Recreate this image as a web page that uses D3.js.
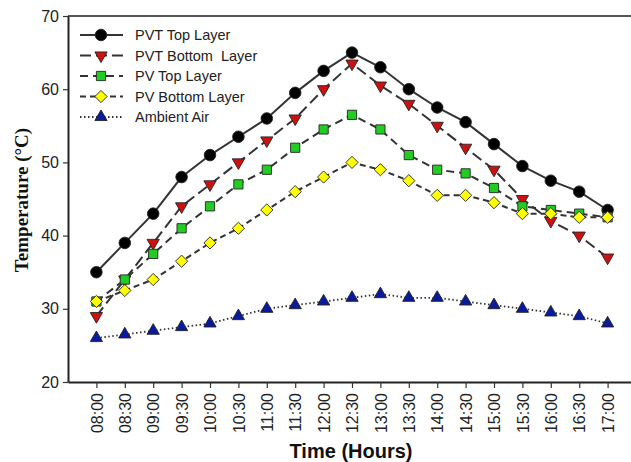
<!DOCTYPE html>
<html>
<head>
<meta charset="utf-8">
<script src="https://cdn.jsdelivr.net/npm/d3@7"></script>
<style>
  body { margin: 0; background: #fff; }
  svg { display: block; }
</style>
</head>
<body>
<div id="chart"></div>
<script>
// data
var times = ["08:00","08:30","09:00","09:30","10:00","10:30","11:00","11:30","12:00","12:30",
             "13:00","13:30","14:00","14:30","15:00","15:30","16:00","16:30","17:00"];
var pvtTop    = [35, 39, 43, 48, 51, 53.5, 56, 59.5, 62.5, 65, 63, 60, 57.5, 55.5, 52.5, 49.5, 47.5, 46, 43.5];
var pvtBottom = [29, 34, 39, 44, 47, 50, 53, 56, 60, 63.5, 60.5, 58, 55, 52, 49, 45, 42, 40, 37];
var pvTop     = [31, 34, 37.5, 41, 44, 47, 49, 52, 54.5, 56.5, 54.5, 51, 49, 48.5, 46.5, 44, 43.5, 43, 42.5];
var pvBottom  = [31, 32.5, 34, 36.5, 39, 41, 43.5, 46, 48, 50, 49, 47.5, 45.5, 45.5, 44.5, 43, 43, 42.5, 42.5];
var ambient   = [26, 26.5, 27, 27.5, 28, 29, 30, 30.5, 31, 31.5, 32, 31.5, 31.5, 31, 30.5, 30, 29.5, 29, 28];
var yTicks = [20, 30, 40, 50, 60, 70];

var series = [
  {name: "PVT Top Layer",      values: pvtTop,    dash: null,    symbol: d3.symbolCircle,   size: 105, fill: "#000000", rot: 0},
  {name: "PVT Bottom  Layer",  values: pvtBottom, dash: "11,5",  symbol: d3.symbolTriangle, size: 65,  fill: "#cc1111", rot: 180},
  {name: "PV Top Layer",       values: pvTop,     dash: "8,5",   symbol: d3.symbolSquare,   size: 85,  fill: "#22cc22", rot: 0},
  {name: "PV Bottom Layer",    values: pvBottom,  dash: "6,4",   symbol: d3.symbolDiamond2, size: 95,  fill: "#ffff00", rot: 0},
  {name: "Ambient Air",        values: ambient,   dash: "1.5,2.5", symbol: d3.symbolTriangle, size: 65, fill: "#0a1a9c", rot: 0}
];

var margin = {top: 16, right: 0, bottom: 80, left: 68},
    width = 568,
    height = 462 - margin.top - margin.bottom - 0;

var svg = d3.select("#chart")
  .append("svg")
    .attr("width", 631)
    .attr("height", 462)
  .append("g")
    .attr("transform", "translate(" + margin.left + "," + margin.top + ")");

var x = d3.scaleLinear()
  .domain([-1, 19])
  .range([0, width]);

var y = d3.scaleLinear()
  .domain([20, 70])
  .range([366, 0]);

// frame top line
svg.append("line")
  .attr("x1", 0).attr("x2", width)
  .attr("y1", 0).attr("y2", 0)
  .style("stroke", "#555")
  .style("stroke-width", 2);

// X axis
var xAxis = svg.append("g")
  .attr("transform", "translate(0," + y(20) + ")")
  .call(d3.axisBottom(x)
    .tickValues(d3.range(times.length))
    .tickFormat(function(i) { return times[i]; })
    .tickSize(6)
    .tickSizeOuter(0));
xAxis.select(".domain").style("stroke", "#222").style("stroke-width", 2);
xAxis.selectAll(".tick line").style("stroke", "#333").style("stroke-width", 1.2);
xAxis.selectAll("text")
  .attr("transform", "rotate(-90)")
  .attr("x", -11)
  .attr("y", 0)
  .attr("dy", "0.35em")
  .style("text-anchor", "end")
  .style("font-family", "Liberation Sans, Arial, sans-serif")
  .style("font-size", "16px")
  .style("fill", "#222");

// Y axis
var yAxis = svg.append("g")
  .call(d3.axisLeft(y)
    .tickValues(yTicks)
    .tickSize(5)
    .tickSizeOuter(0));
yAxis.select(".domain").style("stroke", "#222").style("stroke-width", 2);
yAxis.selectAll(".tick line").style("stroke", "#333").style("stroke-width", 1.2);
yAxis.selectAll("text")
  .attr("x", -9)
  .style("font-family", "Liberation Sans, Arial, sans-serif")
  .style("font-size", "16px")
  .style("fill", "#222");

// axis titles
svg.append("text")
  .attr("x", 283)
  .attr("y", 442)
  .style("text-anchor", "middle")
  .style("font-family", "Liberation Sans, Arial, sans-serif")
  .style("font-weight", "bold")
  .style("font-size", "20px")
  .style("fill", "#111")
  .text("Time (Hours)");

svg.append("text")
  .attr("transform", "rotate(-90)")
  .attr("x", -184)
  .attr("y", -40)
  .style("text-anchor", "middle")
  .style("font-family", "Liberation Serif, Times New Roman, serif")
  .style("font-weight", "bold")
  .style("font-size", "19px")
  .style("fill", "#111")
  .text("Temperature (°C)");

var line = d3.line()
  .x(function(d, i) { return x(i); })
  .y(function(d) { return y(d); });

// lines first, then markers on top
series.forEach(function(s) {
  svg.append("path")
    .datum(s.values)
    .attr("d", line)
    .style("fill", "none")
    .style("stroke", "#333")
    .style("stroke-width", s.dash === "1.5,2.5" ? 1.8 : 2)
    .style("stroke-dasharray", s.dash);
});

series.forEach(function(s) {
  svg.selectAll(null)
    .data(s.values)
    .enter()
    .append("path")
      .attr("d", d3.symbol().type(s.symbol).size(s.size))
      .attr("transform", function(d, i) {
        return "translate(" + x(i) + "," + y(d) + ") rotate(" + s.rot + ")";
      })
      .style("fill", s.fill)
      .style("stroke", "#222")
      .style("stroke-width", 0.9);
});

// legend
var legend = svg.append("g");

series.forEach(function(s, k) {
  var ly = 19 + k * 20.5;
  legend.append("line")
    .attr("x1", 12).attr("x2", 55)
    .attr("y1", ly).attr("y2", ly)
    .style("stroke", "#333")
    .style("stroke-width", 2)
    .style("stroke-dasharray", s.dash);
  legend.append("path")
    .attr("d", d3.symbol().type(s.symbol).size(s.size))
    .attr("transform", "translate(33," + ly + ") rotate(" + s.rot + ")")
    .style("fill", s.fill)
    .style("stroke", "#222")
    .style("stroke-width", 0.9);
  legend.append("text")
    .attr("x", 67)
    .attr("y", ly)
    .attr("dy", "0.35em")
    .style("white-space", "pre")
    .style("font-family", "Liberation Sans, Arial, sans-serif")
    .style("font-size", "14.5px")
    .style("fill", "#222")
    .text(s.name);
});
</script>
</body>
</html>
